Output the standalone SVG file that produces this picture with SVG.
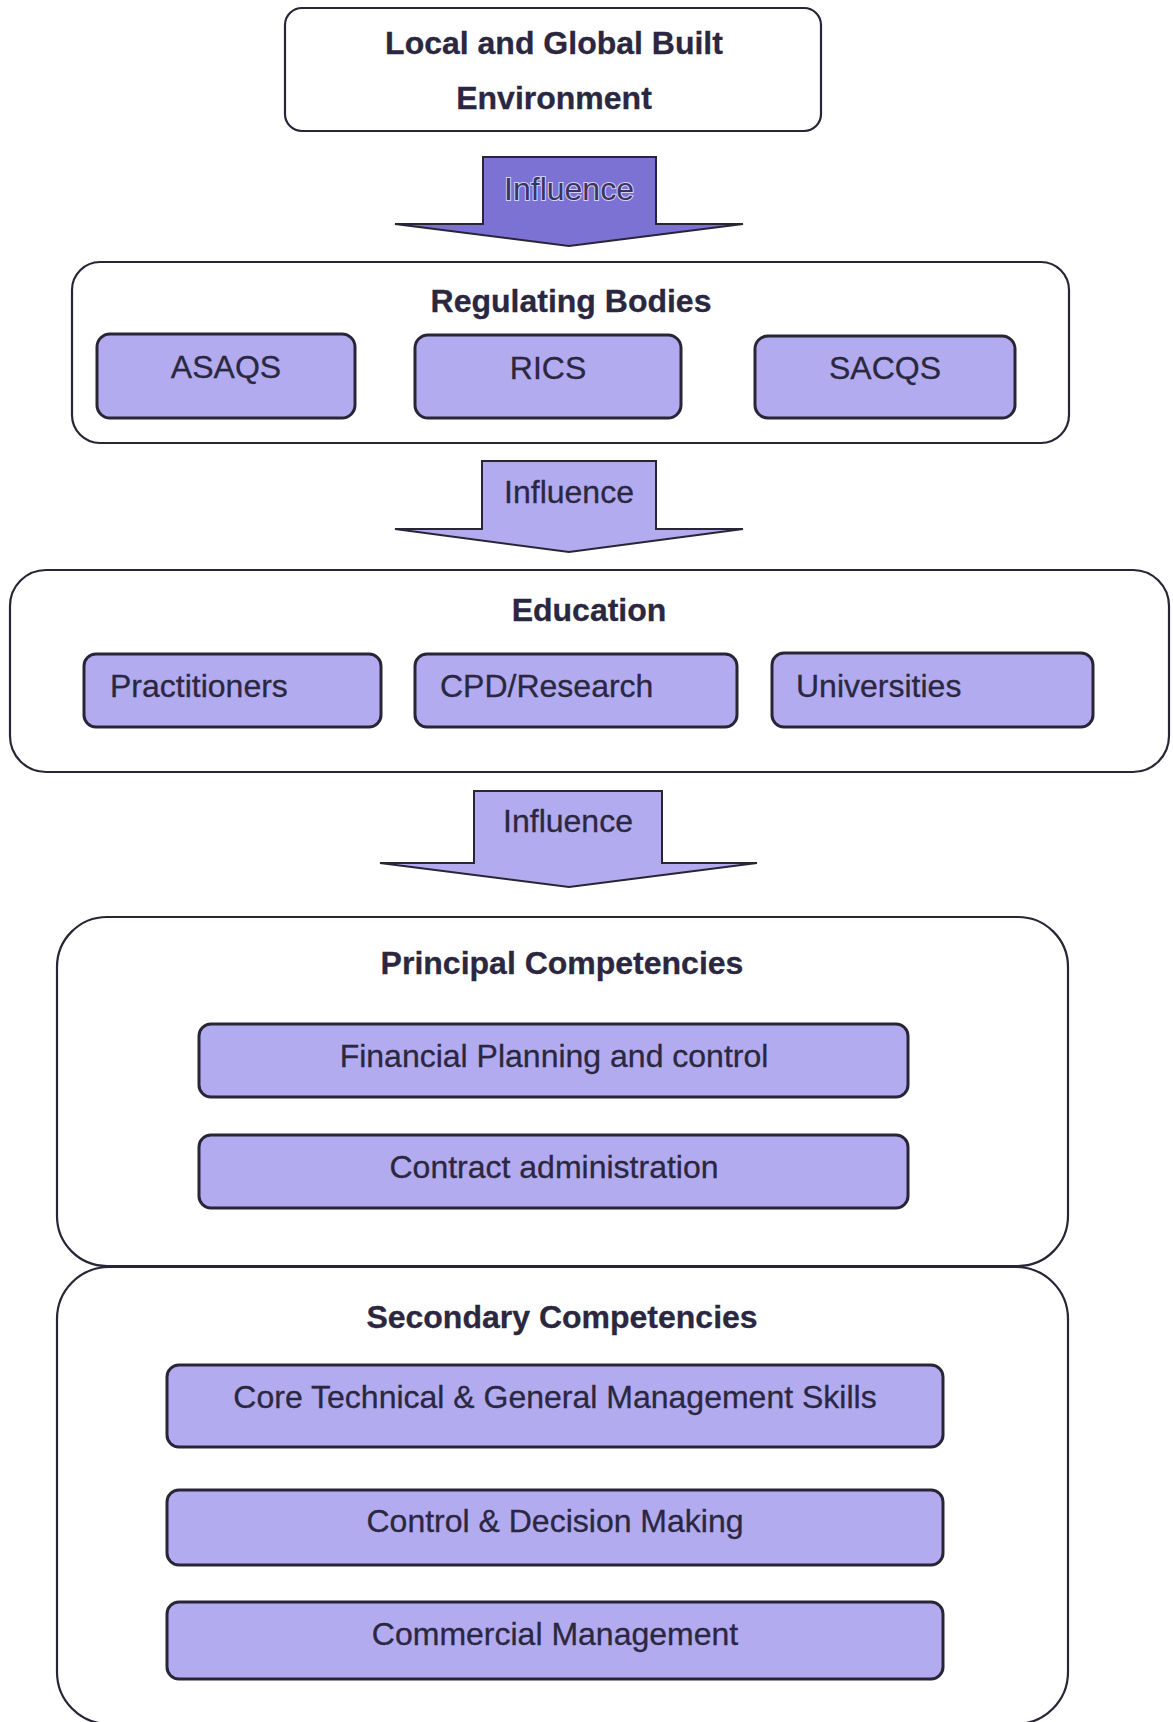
<svg xmlns="http://www.w3.org/2000/svg" width="1173" height="1722" viewBox="0 0 1173 1722">
<style>
  .bg { fill: #ffffff; }
  .cont { fill: #ffffff; stroke: #2a2536; stroke-width: 2.2; }
  .sub { fill: #b2abef; stroke: #2a2536; stroke-width: 3; }
  .arrow { fill: #b2abef; stroke: #2a2536; stroke-width: 2; stroke-linejoin: miter; }
  .arrow-dark { fill: #7c72d4; stroke: #2a2536; stroke-width: 2; stroke-linejoin: miter; }
  .t { font-family: "Liberation Sans", Arial, sans-serif; font-size: 32px; fill: #2b2740; stroke: #2b2740; stroke-width: 0.3; }
  .b { font-weight: bold; }
  .c { text-anchor: middle; }
  .emb { fill: #3a3462; stroke: #d6d2f6; stroke-width: 2; paint-order: stroke; }
</style>
<rect class="bg" x="0" y="0" width="1173" height="1722"/>

<g id="connectors">
  <g id="arrow1">
    <path class="arrow-dark" d="M483,157 L656,157 L656,224 L743,224 L569,246 L395,224 L483,224 Z"/>
    <text class="t c emb" x="569" y="200">Influence</text>
  </g>
  <g id="arrow2">
    <path class="arrow" d="M482,461 L656,461 L656,529 L743,529 L569,552 L395,529 L482,529 Z"/>
    <text class="t c" x="569" y="503">Influence</text>
  </g>
  <g id="arrow3">
    <path class="arrow" d="M474,791 L662,791 L662,863 L757,863 L569,887 L380,863 L474,863 Z"/>
    <text class="t c" x="568" y="832">Influence</text>
  </g>
</g>

<g id="environment">
  <rect class="cont" x="285" y="8" width="536" height="123" rx="17"/>
  <text class="t b c" x="554" y="54">Local and Global Built</text>
  <text class="t b c" x="554" y="109">Environment</text>
</g>

<g id="regulating-bodies">
  <rect class="cont" x="72" y="262" width="997" height="181" rx="28"/>
  <text class="t b c" x="571" y="312">Regulating Bodies</text>
  <g id="asaqs">
    <rect class="sub" x="97" y="334" width="258" height="84" rx="13"/>
    <text class="t c" x="226" y="378">ASAQS</text>
  </g>
  <g id="rics">
    <rect class="sub" x="415" y="335" width="266" height="83" rx="13"/>
    <text class="t c" x="548" y="379">RICS</text>
  </g>
  <g id="sacqs">
    <rect class="sub" x="755" y="336" width="260" height="82" rx="13"/>
    <text class="t c" x="885" y="379">SACQS</text>
  </g>
</g>

<g id="education">
  <rect class="cont" x="10" y="570" width="1159" height="202" rx="36"/>
  <text class="t b c" x="589" y="621">Education</text>
  <g id="practitioners">
    <rect class="sub" x="84" y="654" width="297" height="73" rx="12"/>
    <text class="t" x="110" y="697">Practitioners</text>
  </g>
  <g id="cpd-research">
    <rect class="sub" x="415" y="654" width="322" height="73" rx="12"/>
    <text class="t" x="440" y="697">CPD/Research</text>
  </g>
  <g id="universities">
    <rect class="sub" x="772" y="653" width="321" height="74" rx="12"/>
    <text class="t" x="796" y="697">Universities</text>
  </g>
</g>

<g id="principal-competencies">
  <rect class="cont" x="57" y="917" width="1011" height="349" rx="50"/>
  <text class="t b c" x="562" y="974">Principal Competencies</text>
  <g id="financial">
    <rect class="sub" x="199" y="1024" width="709" height="73" rx="12"/>
    <text class="t c" x="554" y="1067">Financial Planning and control</text>
  </g>
  <g id="contract">
    <rect class="sub" x="199" y="1135" width="709" height="73" rx="12"/>
    <text class="t c" x="554" y="1178">Contract administration</text>
  </g>
</g>

<g id="secondary-competencies">
  <rect class="cont" x="57" y="1267" width="1011" height="457" rx="52"/>
  <text class="t b c" x="562" y="1328">Secondary Competencies</text>
  <g id="core">
    <rect class="sub" x="167" y="1365" width="776" height="82" rx="12"/>
    <text class="t c" x="555" y="1408">Core Technical &amp; General Management Skills</text>
  </g>
  <g id="control">
    <rect class="sub" x="167" y="1490" width="776" height="75" rx="12"/>
    <text class="t c" x="555" y="1532">Control &amp; Decision Making</text>
  </g>
  <g id="commercial">
    <rect class="sub" x="167" y="1602" width="776" height="77" rx="12"/>
    <text class="t c" x="555" y="1645">Commercial Management</text>
  </g>
</g>
</svg>
